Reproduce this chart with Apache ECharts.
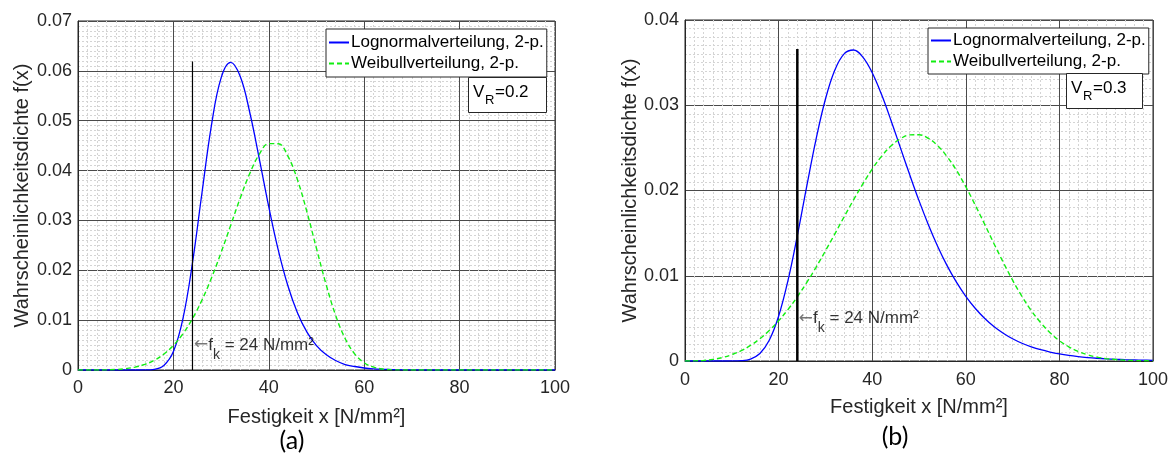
<!DOCTYPE html>
<html><head><meta charset="utf-8">
<script src="https://cdn.jsdelivr.net/npm/echarts@6/dist/echarts.min.js"></script>
<style>html,body{margin:0;padding:0;background:#fff}#c{width:1172px;height:454px}</style>
</head><body><div id="c"></div>
<script>
// Shared x grid (Festigkeit x in N/mm²)
const xs = [0,2,4,6,8,10,12,14,16,18,20,22,24,26,28,30,32,34,36,38,40,42,44,46,48,50,52,54,56,58,60,62,64,66,68,70,72,74,76,78,80,82,84,86,88,90,92,94,96,98,100];
// (a) V_R = 0.2
const lognormA = [0,0,0,0,0,0,0.000001,0.00001,0.000135,0.000907,0.00369,0.0103,0.0215,0.0356,0.0492,0.0586,0.0617,0.0589,0.0517,0.0424,0.0327,0.0240,0.0169,0.0115,0.0076,0.0049,0.0031,0.0019,0.0011,0.0007,0.0004,0.00023,0.00014,0.00008,0.00004,0.00002,0,0,0,0,0,0,0,0,0,0,0,0,0,0,0];
const weibullA = [0,0,0.000006,0.000032,0.000107,0.000274,0.000589,0.00112,0.00196,0.0032,0.00494,0.00728,0.0103,0.01405,0.01851,0.02357,0.029,0.03446,0.03939,0.04326,0.04541,0.04538,0.04291,0.03818,0.03169,0.02436,0.0172,0.011,0.00633,0.00324,0.00145,0.00056,0.00018,0.00005,0.00001,0,0,0,0,0,0,0,0,0,0,0,0,0,0,0,0];
// (b) V_R = 0.3
const lognormB = [0,0,0,0,0,0.000003,0.0000375,0.000229,0.00088,0.00243,0.00525,0.00943,0.0147,0.02046,0.026,0.0307,0.0341,0.03603,0.03648,0.03565,0.03381,0.03125,0.02825,0.02506,0.02187,0.01881,0.01599,0.01344,0.01119,0.00925,0.00759,0.00619,0.00502,0.00405,0.00326,0.00261,0.00208,0.00166,0.00132,0.00105,0.00083,0.000654,0.000516,0.000407,0.000321,0.000253,0.000199,0.000157,0.000124,0.000097,0.000077];
const weibullB = [0,0.00001,0.000062,0.000185,0.000404,0.000738,0.001207,0.001827,0.002614,0.003574,0.004711,0.006034,0.007537,0.009194,0.01099,0.01291,0.01489,0.01691,0.01889,0.02077,0.02251,0.024,0.02521,0.02606,0.02652,0.02654,0.02612,0.02526,0.02398,0.02237,0.02044,0.01831,0.01607,0.01379,0.01158,0.00948,0.00758,0.00591,0.00449,0.00332,0.00238,0.00166,0.00112,0.00073,0.00046,0.00028,0.00017,0.000095,0.000053,0.000029,0.000015];
// Characteristic value line
const fkX = 24;
const fkTopA = 0.0619;
const fkTopB = 0.0366;
const fkLabelY = 0.005;
const yMaxA = 0.07, yMaxB = 0.04;
const seriesNames = ['Lognormalverteilung, 2-p.', 'Weibullverteilung, 2-p.'];
const xTitle = 'Festigkeit x [N/mm²]';
const yTitle = 'Wahrscheinlichkeitsdichte f(x)';
const vrA = '0.2', vrB = '0.3';
const panelA = '(a)', panelB = '(b)';

const FONT = '"Liberation Sans", Arial, sans-serif';
const pairs = (ys) => xs.map((x, i) => [x, ys[i]]);
const MINOR = { show: true, lineStyle: { color: '#d4d4d4', width: 1, type: [2, 2] } };

function xAxisCfg(gi, gap, margin) {
  return {
    gridIndex: gi, type: 'value', min: 0, max: 100, interval: 20,
    name: xTitle, nameLocation: 'middle', nameGap: gap,
    nameTextStyle: { fontSize: 20, color: '#262626', fontFamily: FONT },
    axisLine: { show: true, onZero: false, lineStyle: { color: '#262626', width: 1 } },
    axisTick: { show: false },
    axisLabel: { fontSize: 18, color: '#262626', fontFamily: FONT, margin: margin },
    splitLine: { show: true, lineStyle: { color: '#4a4a4a', width: 1 } },
    minorTick: { show: false, splitNumber: 10 },
    minorSplitLine: MINOR
  };
}
function yAxisCfg(gi, max, gap) {
  return {
    gridIndex: gi, type: 'value', min: 0, max: max, interval: 0.01,
    name: yTitle, nameLocation: 'middle', nameGap: gap,
    nameTextStyle: { fontSize: 20, color: '#262626', fontFamily: FONT },
    axisLine: { show: true, lineStyle: { color: '#262626', width: 1 } },
    axisTick: { show: false },
    axisLabel: { fontSize: 18, color: '#262626', fontFamily: FONT, margin: 6 },
    splitLine: { show: true, lineStyle: { color: '#4a4a4a', width: 1 } },
    minorTick: { show: false, splitNumber: 10 },
    minorSplitLine: MINOR
  };
}
function curve(name, data, gi, color, dashed) {
  return {
    name: name, type: 'line', xAxisIndex: gi, yAxisIndex: gi,
    data: pairs(data), showSymbol: false, symbol: 'none', smooth: 0.4,
    lineStyle: { color: color, width: dashed ? 1.4 : 1.3, type: dashed ? [5, 3] : 'solid' },
    itemStyle: { color: color }, silent: true, z: 3
  };
}
function fkLine(gi, top, w) {
  return {
    name: 'fk', type: 'line', xAxisIndex: gi, yAxisIndex: gi,
    data: [[fkX, 0], [fkX, top]], symbol: 'none',
    lineStyle: { color: '#000', width: w }, silent: true, z: 4
  };
}
function fkLabel(gi) {
  return {
    name: 'fklabel', type: 'scatter', xAxisIndex: gi, yAxisIndex: gi,
    data: [[fkX, fkLabelY]], symbolSize: 1, itemStyle: { color: 'rgba(0,0,0,0)' }, silent: true, z: 5,
    label: {
      show: true, position: 'right', distance: 1,
      formatter: '{a|←}{m|f}{s|k}{m| = 24 N/mm²}',
      rich: {
        a: { fontSize: 17, color: '#555', fontFamily: '"DejaVu Sans", sans-serif', lineHeight: 34, verticalAlign: 'middle' },
        m: { fontSize: 17, color: '#000', fontFamily: FONT, lineHeight: 34, verticalAlign: 'middle' },
        s: { fontSize: 14, color: '#000', fontFamily: FONT, lineHeight: 34, verticalAlign: 'bottom' }
      }
    }
  };
}
function legendCfg(left, top, pad) {
  return {
    data: seriesNames, orient: 'vertical', left: left, top: top,
    padding: [pad, 3, pad, 2], itemGap: 4, itemWidth: 20, itemHeight: 17,
    backgroundColor: '#fff', borderColor: '#262626', borderWidth: 1, borderRadius: 0,
    selectedMode: false,
    itemStyle: { opacity: 0, borderWidth: 0 },
    textStyle: { fontSize: 17, color: '#000', fontFamily: FONT, padding: [0, 0, 0, -3] }
  };
}
function vrBox(x, y, w, h, val) {
  return {
    type: 'group', x: x, y: y, z: 100,
    children: [
      { type: 'rect', z: 100, shape: { x: 0.5, y: 0.5, width: w, height: h }, style: { fill: '#fff', stroke: '#262626', lineWidth: 1 } },
      { type: 'text', z: 101, x: 5, y: 15, style: { text: 'V', font: '17px ' + FONT, fill: '#000', verticalAlign: 'middle', align: 'left' } },
      { type: 'text', z: 101, x: 17, y: 23, style: { text: 'R', font: '13px ' + FONT, fill: '#000', verticalAlign: 'middle', align: 'left' } },
      { type: 'text', z: 101, x: 27, y: 15, style: { text: '=' + val, font: '17px ' + FONT, fill: '#000', verticalAlign: 'middle', align: 'left' } }
    ]
  };
}

const chart = echarts.init(document.getElementById('c'), null, { renderer: 'canvas' });
chart.setOption({
  animation: false,
  backgroundColor: '#fff',
  grid: [
    { left: 78, top: 21, width: 477, height: 349, show: true, borderColor: '#262626', borderWidth: 1, backgroundColor: 'transparent' },
    { left: 685, top: 20, width: 468, height: 341, show: true, borderColor: '#262626', borderWidth: 1, backgroundColor: 'transparent' }
  ],
  xAxis: [xAxisCfg(0, 37, 9), xAxisCfg(1, 36, 10)],
  yAxis: [yAxisCfg(0, yMaxA, 46), yAxisCfg(1, yMaxB, 45)],
  legend: [legendCfg(326, 29, 5), legendCfg(928, 28, 4)],
  series: [
    curve(seriesNames[0], lognormA, 0, '#0000ff', false),
    curve(seriesNames[1], weibullA, 0, '#11ee11', true),
    fkLine(0, fkTopA, 1.2),
    fkLabel(0),
    curve(seriesNames[0], lognormB, 1, '#0000ff', false),
    curve(seriesNames[1], weibullB, 1, '#11ee11', true),
    fkLine(1, fkTopB, 2.5),
    fkLabel(1)
  ],
  graphic: [
    vrBox(468, 77, 78, 35, vrA),
    vrBox(1066, 73, 76, 35, vrB),
    { type: 'text', x: 292, y: 441, style: { text: panelA, font: '25px Lato, "Open Sans", sans-serif', fill: '#000', align: 'center', verticalAlign: 'middle' } },
    { type: 'text', x: 895, y: 437, style: { text: panelB, font: '25px Lato, "Open Sans", sans-serif', fill: '#000', align: 'center', verticalAlign: 'middle' } }
  ]
});
</script>
</body></html>
